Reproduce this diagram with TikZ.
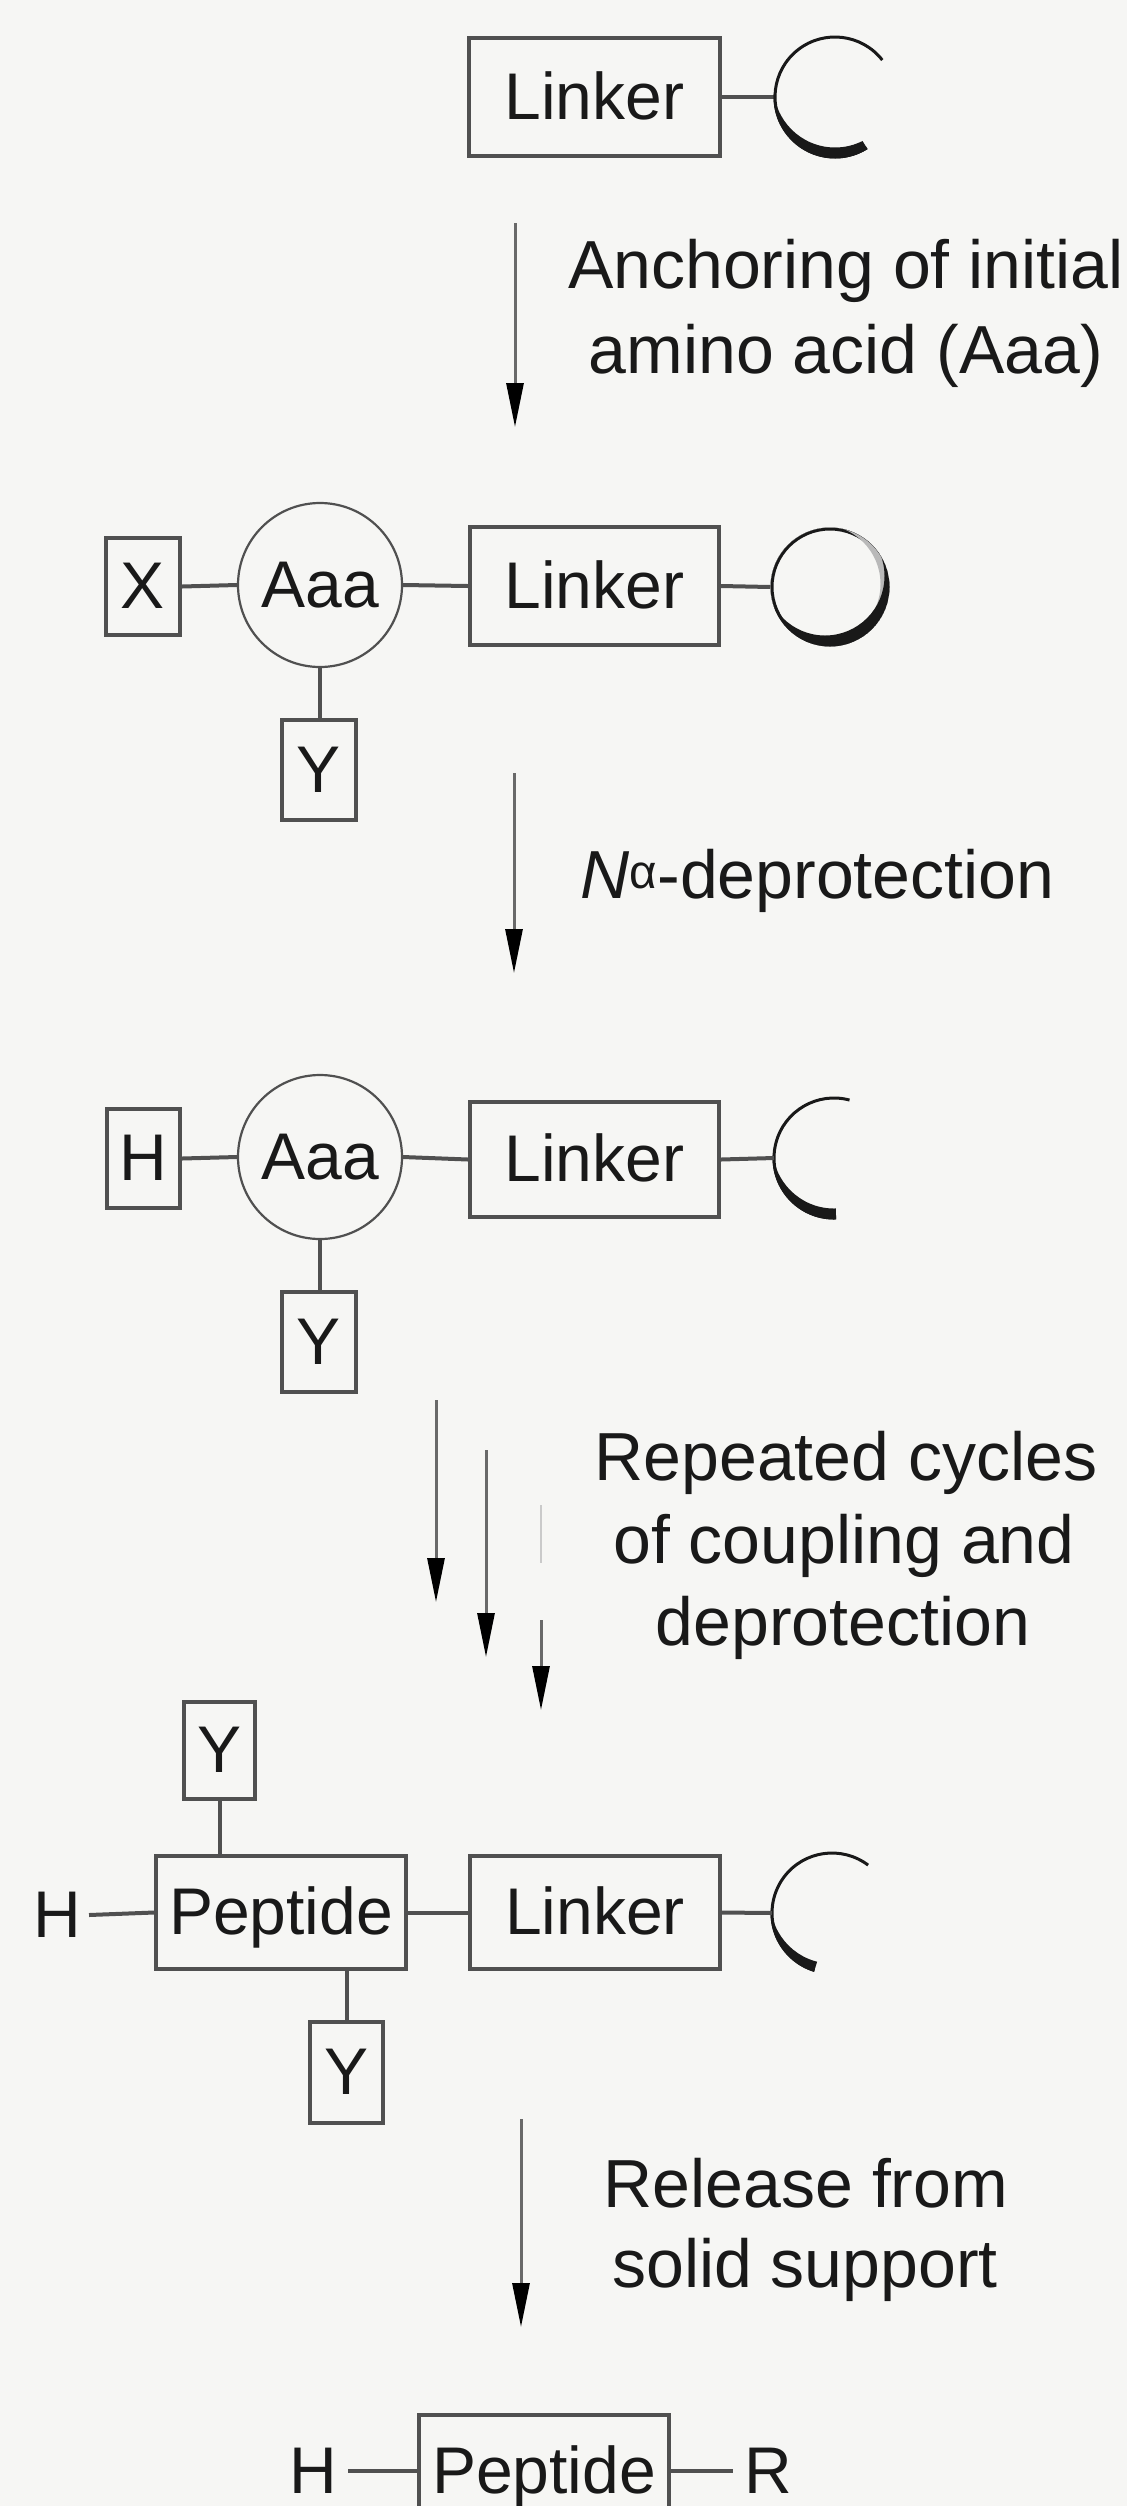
\documentclass[tikz,border=0pt]{standalone}
\usepackage{fontspec}
\setmainfont{Liberation Sans}
\usetikzlibrary{arrows.meta,calc}
\definecolor{paper}{RGB}{246,246,244}
\definecolor{ink}{RGB}{25,25,25}
\definecolor{edge}{RGB}{80,80,80}
\definecolor{shaft}{RGB}{105,105,105}
\tikzset{
  txt/.style={inner sep=0pt, text=ink, font=\fontsize{66}{79}\selectfont, text height=44pt, text depth=0pt},
  box/.style={txt, draw=edge, line width=4pt, rectangle},
  aaa/.style={txt, circle, draw=edge, line width=2.2pt, minimum size=164pt},
  bond/.style={draw=edge, line width=4pt},
  arcline/.style={draw=ink, line width=3pt},
  flow/.style={draw=shaft, line width=3pt, -{Triangle[length=44pt,width=17pt,color=black]}},
  faint/.style={draw=shaft!35, line width=2.5pt},
  lbl/.style={inner sep=0pt, text=ink, font=\fontsize{68}{81}\selectfont, anchor=base},
}
\begin{document}
\begin{tikzpicture}[x=1pt,y=-1pt]
\useasboundingbox (0,0) rectangle (1127,2506);
\clip (0,0) rectangle (1127,2506);
\fill[paper] (0,0) rectangle (1127,2506);

% ---------- Row 1 ----------
\node[box, minimum width=251pt, minimum height=118pt] (L1) at (594.5,97) {Linker};
\coordinate (C1) at (835,97);
\coordinate (C1w) at (775,97);
\draw[bond] (L1.east) -- (C1w);
\begin{scope}
  \clip (C1) circle (61.5);
  \clip ($(C1)+(-100,-5)$) -- ($(C1)+(-100,100)$) -- ($(C1)+(58:110)$) -- (C1) -- cycle;
  \fill[ink, even odd rule] (C1) circle (61.5) ($(C1)+(0,-11)$) circle (61.5);
\end{scope}
\draw[arcline] ($(C1)+(-38:60)$) arc[start angle=-38, end angle=-302, radius=60];

% arrow 1
\coordinate (a1s) at (515,223);
\coordinate (a1e) at (515,427);
\draw[flow] (a1s) -- (a1e);
\node[lbl] (t1a) at (846,288) {Anchoring of initial};
\node[lbl] (t1b) at (846,373) {amino acid (Aaa)};

% ---------- Row 2 ----------
\node[box, minimum width=74pt, minimum height=97pt] (X2) at (143,586.5) {X};
\node[aaa] (A2) at (320,585) {Aaa};
\node[box, minimum width=249pt, minimum height=118pt] (L2) at (594.5,586) {Linker};
\node[circle, draw=ink, line width=3pt, minimum size=116pt, inner sep=0pt] (B2) at (830,587) {};
\begin{scope}
  \clip (B2.center) circle (59.5);
  \fill[gray!55, even odd rule] (B2.center) circle (59.5) ($(B2.center)+(-9,-3)$) circle (59.5);
  \fill[ink, even odd rule] (B2.center) circle (59.5) ($(B2.center)+(-5,-11)$) circle (59.5);
\end{scope}
\node[box, minimum width=74pt, minimum height=100pt] (Y2) at (319,770) {Y};
\draw[bond] (X2.east) -- (A2.west);
\draw[bond] (A2.east) -- (L2.west);
\draw[bond] (L2.east) -- (B2.west);
\draw[bond] (A2.south) -- (A2.south |- Y2.north);

% arrow 2
\coordinate (a2s) at (514,773);
\coordinate (a2e) at (514,973);
\draw[flow] (a2s) -- (a2e);
\node[lbl, anchor=base west] (t2) at (580,898) {\textit{N}\textsuperscript{α}-deprotection};

% ---------- Row 3 ----------
\node[box, minimum width=73pt, minimum height=99pt] (H3) at (143.5,1158.5) {H};
\node[aaa] (A3) at (320,1157) {Aaa};
\node[box, minimum width=249pt, minimum height=115pt] (L3) at (594.5,1159.5) {Linker};
\coordinate (C3) at (834,1158);
\coordinate (C3w) at (774,1158);
\begin{scope}
  \clip (C3) circle (61.5);
  \clip ($(C3)+(-100,-5)$) -- ($(C3)+(-100,100)$) -- ($(C3)+(88:110)$) -- (C3) -- cycle;
  \fill[ink, even odd rule] (C3) circle (61.5) ($(C3)+(0,-11)$) circle (61.5);
\end{scope}
\draw[arcline] ($(C3)+(-75:60)$) arc[start angle=-75, end angle=-272, radius=60];
\node[box, minimum width=74pt, minimum height=100pt] (Y3) at (319,1342) {Y};
\draw[bond] (H3.east) -- (A3.west);
\draw[bond] (A3.east) -- (L3.west);
\draw[bond] (L3.east) -- (C3w);
\draw[bond] (A3.south) -- (A3.south |- Y3.north);

% arrows 3
\coordinate (a3as) at (436,1400);
\coordinate (a3ae) at (436,1602);
\coordinate (a3bs) at (486,1450);
\coordinate (a3be) at (486,1657);
\coordinate (a3cf) at (541,1505);
\coordinate (a3cg) at (541,1563);
\coordinate (a3cs) at (541,1620);
\coordinate (a3ce) at (541,1710);
\draw[flow] (a3as) -- (a3ae);
\draw[flow] (a3bs) -- (a3be);
\draw[faint] (a3cf) -- (a3cg);
\draw[flow] (a3cs) -- (a3ce);
\node[lbl] (t3a) at (846,1480) {Repeated cycles};
\node[lbl] (t3b) at (844,1563) {of coupling and};
\node[lbl] (t3c) at (843,1645) {deprotection};

% ---------- Row 4 ----------
\node[box, minimum width=71pt, minimum height=97pt] (Yt4) at (219.5,1750.5) {Y};
\node[box, minimum width=250pt, minimum height=113pt] (P4) at (281,1912.5) {Peptide};
\node[txt, inner sep=8pt] (H4) at (57,1915) {H};
\node[box, minimum width=250pt, minimum height=113pt] (L4) at (595,1912.5) {Linker};
\coordinate (C4) at (832,1913);
\coordinate (C4w) at (772,1913);
\begin{scope}
  \clip (C4) circle (61.5);
  \clip (C4) -- ($(C4)+(-100,-5)$) -- ($(C4)+(-100,100)$) -- ($(C4)+(107:110)$) -- cycle;
  \fill[ink, even odd rule] (C4) circle (61.5) ($(C4)+(0,-11)$) circle (61.5);
\end{scope}
\draw[arcline] ($(C4)+(-53:60)$) arc[start angle=-53, end angle=-253, radius=60];
\node[box, minimum width=73pt, minimum height=101pt] (Yb4) at (346.5,2072.5) {Y};
\draw[bond] (H4.east) -- (P4.west);
\draw[bond] (Yt4.south) -- (Yt4.south |- P4.north);
\draw[bond] (Yb4.north) -- (Yb4.north |- P4.south);
\draw[bond] (P4.east) -- (L4.west);
\draw[bond] (L4.east) -- (C4w);

% arrow 5
\coordinate (a5s) at (521,2119);
\coordinate (a5e) at (521,2327);
\draw[flow] (a5s) -- (a5e);
\node[lbl] (t5a) at (806,2207) {Release from};
\node[lbl] (t5b) at (805,2287) {solid support};

% ---------- Row 5 ----------
\node[txt, inner sep=11pt] (H5) at (313,2471) {H};
\node[box, minimum width=250pt, minimum height=113pt] (P5) at (544,2471) {Peptide};
\node[txt, inner sep=11pt] (R5) at (768,2471) {R};
\draw[bond] (H5.east) -- (P5.west);
\draw[bond] (P5.east) -- (R5.west);
\end{tikzpicture}
\end{document}
